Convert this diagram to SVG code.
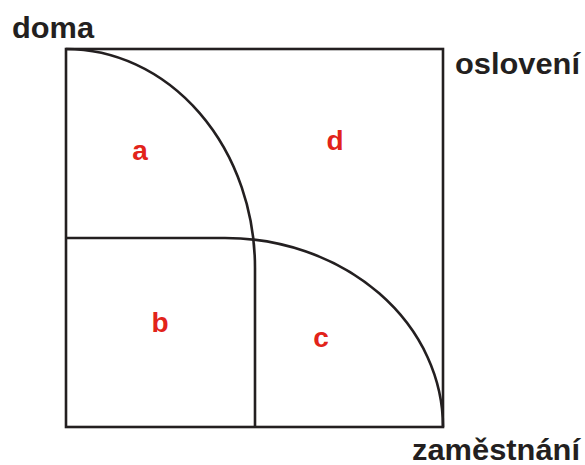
<svg xmlns="http://www.w3.org/2000/svg" width="585" height="465" viewBox="0 0 585 465">
<style>
.ln{fill:none;stroke:#231f20;stroke-width:2.6}
.lab{font-family:"Liberation Sans",Arial,sans-serif;font-weight:bold;font-size:29px;fill:#231f20}
.reg{font-family:"Liberation Sans",Arial,sans-serif;font-weight:bold;font-size:28px;fill:#e2231a;text-anchor:middle}
</style>
<rect width="585" height="465" fill="#fff"/>
<g id="connectors">
<rect id="frame" class="ln" x="66" y="49" width="377" height="378"/>
<path id="curve-a" class="ln" d="M66,49 A189,219 0 0 1 255,268 L255,427"/>
<path id="curve-c" class="ln" d="M66,238 L225,238 A218,189 0 0 1 443,427"/>
</g>
<g id="doma"><text class="lab" x="12" y="38" textLength="82" lengthAdjust="spacingAndGlyphs">doma</text></g>
<g id="osloveni"><text class="lab" x="455" y="74" textLength="125" lengthAdjust="spacingAndGlyphs">oslovení</text></g>
<g id="zamestnani"><text class="lab" x="412" y="460" textLength="168" lengthAdjust="spacingAndGlyphs">zaměstnání</text></g>
<g id="a"><text class="reg" x="140" y="160">a</text></g>
<g id="d"><text class="reg" x="335" y="150">d</text></g>
<g id="b"><text class="reg" x="160" y="332">b</text></g>
<g id="c"><text class="reg" x="321" y="347">c</text></g>
</svg>
